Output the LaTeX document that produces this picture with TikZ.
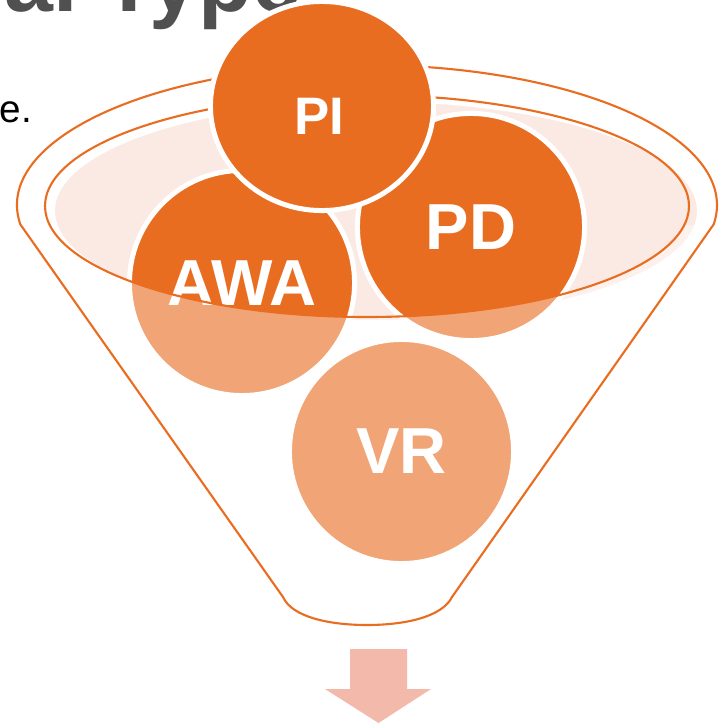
\documentclass[tikz,border=0pt]{standalone}
\usepackage{fontspec}
\setmainfont{Liberation Sans}
\usepackage{xcolor}
\usetikzlibrary{shapes.geometric}
\definecolor{funnelorange}{RGB}{233,109,33}
\definecolor{rimpink}{RGB}{251,233,227}
\definecolor{arrowpink}{RGB}{243,186,171}
\definecolor{titlegray}{RGB}{80,80,80}
\tikzset{
  bubble/.style={circle, draw=white, line width=1.42pt, fill=funnelorange, text=white, font=\bfseries\fontsize{18.5}{20}\selectfont, inner sep=0pt, outer sep=0pt},
  toplabel/.style={text=white, font=\bfseries\fontsize{15}{18}\selectfont, inner sep=0pt},
  rimline/.style={draw=funnelorange, line width=0.6pt},
  glass/.style={fill=white, fill opacity=0.38, even odd rule},
  outarrow/.style={fill=arrowpink},
  slidetitle/.style={anchor=base west, inner sep=0pt, text=titlegray, font=\bfseries\fontsize{25}{30}\selectfont},
  slidetext/.style={anchor=base west, inner sep=0pt, font=\fontsize{11}{13}\selectfont}
}
\newcommand{\funneloutline}{(20.4,224.5) arc[start angle=172, end angle=368, x radius=350, y radius=140] -- (452,597) .. controls (442,617) and (405,625) .. (367,625) .. controls (329,625) and (292,617) .. (283,597) -- cycle}

\begin{document}
\begin{tikzpicture}[x=0.01cm, y=-0.01cm]
  \useasboundingbox (0,0) rectangle (719,724);
  \clip (0,0) rectangle (719,724);
  % slide text cut off by the crop
  \node[slidetitle] (title) at (4,11) {al Type};
  \node[slidetext] (tail) at (-1,122) {e.};

  % back of the funnel rim
  \fill[rimpink] (376,211) ellipse[x radius=321, y radius=109];
  \node[bubble, minimum size=2.25cm] (awa) at (242,283) {AWA};
  \node[bubble, minimum size=2.27cm] (pd) at (471,227) {PD};
  \node[bubble, minimum size=2.24cm] (vr) at (401.5,451.5) {VR};

  % glass of the funnel body
  \begin{scope}
    \clip \funneloutline;
    \clip (0,225) rectangle (719,724);
    \path[glass] (0,0) rectangle (719,724) (367,206) ellipse[x radius=322, y radius=111];
  \end{scope}
  \draw[rimline] (367,206) ellipse[x radius=322, y radius=111];
  \draw[rimline] \funneloutline;

  \node[bubble, ellipse, minimum width=2.23cm, minimum height=2.09cm] (pi) at (322,106) {};
  \node[toplabel] (pilabel) at (319,116) {PI};

  \fill[outarrow] (350,649) -- (407,649) -- (407,689) -- (431,689) -- (378.5,723) -- (325,689) -- (350,689) -- cycle;
\end{tikzpicture}
\end{document}
